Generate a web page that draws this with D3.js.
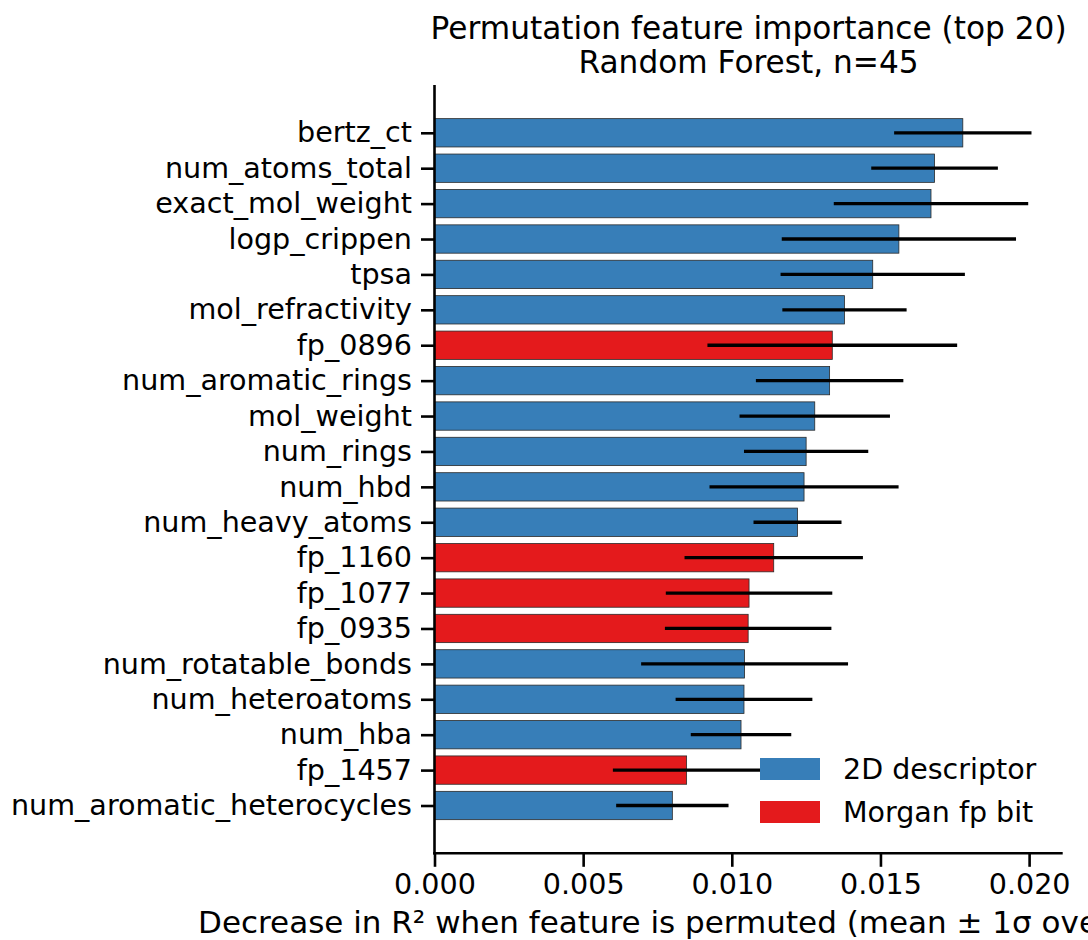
<!DOCTYPE html>
<html>
<head>
<meta charset="utf-8">
<script src="https://cdn.jsdelivr.net/npm/d3@7"></script>
<style>
  html, body { margin: 0; padding: 0; background: #fff; }
  svg { display: block; font-family: "DejaVu Sans", sans-serif; }
</style>
</head>
<body>
<svg id="chart" width="1088" height="940"></svg>
<script>
// Permutation importance, top 20 features (ordered from most to least important)
const features = [
  "bertz_ct", "num_atoms_total", "exact_mol_weight", "logp_crippen", "tpsa",
  "mol_refractivity", "fp_0896", "num_aromatic_rings", "mol_weight", "num_rings",
  "num_hbd", "num_heavy_atoms", "fp_1160", "fp_1077", "fp_0935",
  "num_rotatable_bonds", "num_heteroatoms", "num_hba", "fp_1457", "num_aromatic_heterocycles"
];
const importanceMean = [
  0.01777, 0.01682, 0.01670, 0.01562, 0.01474,
  0.01379, 0.01338, 0.01329, 0.01279, 0.01250,
  0.01243, 0.01221, 0.01141, 0.01058, 0.01055,
  0.01043, 0.01041, 0.01031, 0.00848, 0.00800
];
const importanceStd = [
  0.00231, 0.00213, 0.00327, 0.00394, 0.00310,
  0.00209, 0.00420, 0.00248, 0.00253, 0.00209,
  0.00318, 0.00148, 0.00300, 0.00280, 0.00280,
  0.00348, 0.00230, 0.00169, 0.00248, 0.00189
];
const featureKind = [
  "desc", "desc", "desc", "desc", "desc",
  "desc", "fp", "desc", "desc", "desc",
  "desc", "desc", "fp", "fp", "fp",
  "desc", "desc", "desc", "fp", "desc"
];
const legendKinds = ["desc", "fp"];
const legendLabels = ["2D descriptor", "Morgan fp bit"];
const xTicks = [0, 0.005, 0.010, 0.015, 0.020];
const xMax = 0.02113;

const colors = { desc: "#377eb8", fp: "#e41a1c" };

const svg = d3.select("#chart");
const plot = { left: 434.5, right: 1062.7, top: 85, bottom: 853.3 };

const x = d3.scaleLinear().domain([0, xMax]).range([plot.left, plot.right]);
// bar index on a continuous scale so the bars keep their 0.8 height with margins
const y = d3.scaleLinear().domain([-1.35, features.length - 1 + 1.35]).range([plot.top, plot.bottom]);
const barH = 0.8;

const rows = features.map((f, i) => ({
  name: f, i, mean: importanceMean[i], std: importanceStd[i], kind: featureKind[i]
}));

// bars
svg.append("g").selectAll("rect")
  .data(rows)
  .join("rect")
  .attr("x", x(0))
  .attr("y", d => y(d.i - barH / 2))
  .attr("width", d => x(d.mean) - x(0))
  .attr("height", d => y(d.i + barH / 2) - y(d.i - barH / 2))
  .attr("fill", d => colors[d.kind])
  .attr("stroke", "#2a2a2a")
  .attr("stroke-width", 0.8);

// ±1σ error bars
svg.append("g").selectAll("line")
  .data(rows)
  .join("line")
  .attr("x1", d => x(d.mean - d.std))
  .attr("x2", d => x(d.mean + d.std))
  .attr("y1", d => y(d.i))
  .attr("y2", d => y(d.i))
  .attr("stroke", "#000")
  .attr("stroke-width", 3.3);

// axes
const tickFont = 28.6;
const yAxis = d3.axisLeft(y)
  .tickValues(d3.range(features.length))
  .tickFormat(i => features[i])
  .tickSize(13.5)
  .tickPadding(9);
const gy = svg.append("g").attr("transform", `translate(${plot.left},0)`).call(yAxis);
gy.select(".domain").remove();
gy.selectAll(".tick line").attr("stroke", "#000").attr("stroke-width", 2.6);
gy.selectAll(".tick text").attr("font-size", tickFont).attr("fill", "#000")
  .attr("font-family", "DejaVu Sans");

const xAxis = d3.axisBottom(x)
  .tickValues(xTicks)
  .tickFormat(d3.format(".3f"))
  .tickSize(13.5)
  .tickPadding(7);
const gx = svg.append("g").attr("transform", `translate(0,${plot.bottom})`).call(xAxis);
gx.select(".domain").remove();
gx.selectAll(".tick line").attr("stroke", "#000").attr("stroke-width", 2.6);
gx.selectAll(".tick text").attr("font-size", tickFont).attr("fill", "#000")
  .attr("font-family", "DejaVu Sans");

// spines (left and bottom only)
svg.append("line")
  .attr("x1", plot.left).attr("x2", plot.left)
  .attr("y1", plot.top).attr("y2", plot.bottom + 1.3)
  .attr("stroke", "#000").attr("stroke-width", 2.6);
svg.append("line")
  .attr("x1", plot.left - 1.3).attr("x2", plot.right)
  .attr("y1", plot.bottom).attr("y2", plot.bottom)
  .attr("stroke", "#000").attr("stroke-width", 2.6);

const cx = (plot.left + plot.right) / 2;

// title
svg.append("text")
  .attr("x", cx).attr("y", 38.5)
  .attr("text-anchor", "middle").attr("font-size", 31.2)
  .text("Permutation feature importance (top 20)");
svg.append("text")
  .attr("x", cx).attr("y", 72.5)
  .attr("text-anchor", "middle").attr("font-size", 31.2)
  .text("Random Forest, n=45");

// x axis label (wider than the canvas, so its right end runs off the edge)
svg.append("text")
  .attr("x", cx).attr("y", 933)
  .attr("text-anchor", "middle").attr("font-size", 31)
  .text("Decrease in R² when feature is permuted (mean ± 1σ over 30 repeats)");

// legend
const legend = svg.append("g");
legendKinds.forEach((k, j) => {
  const ly = 769 + j * 43;
  legend.append("rect")
    .attr("x", 760).attr("y", ly - 11)
    .attr("width", 60).attr("height", 22)
    .attr("fill", colors[k]);
  legend.append("text")
    .attr("x", 843).attr("y", ly)
    .attr("dy", "0.36em")
    .attr("font-size", 28.5)
    .text(legendLabels[j]);
});
</script>
</body>
</html>
